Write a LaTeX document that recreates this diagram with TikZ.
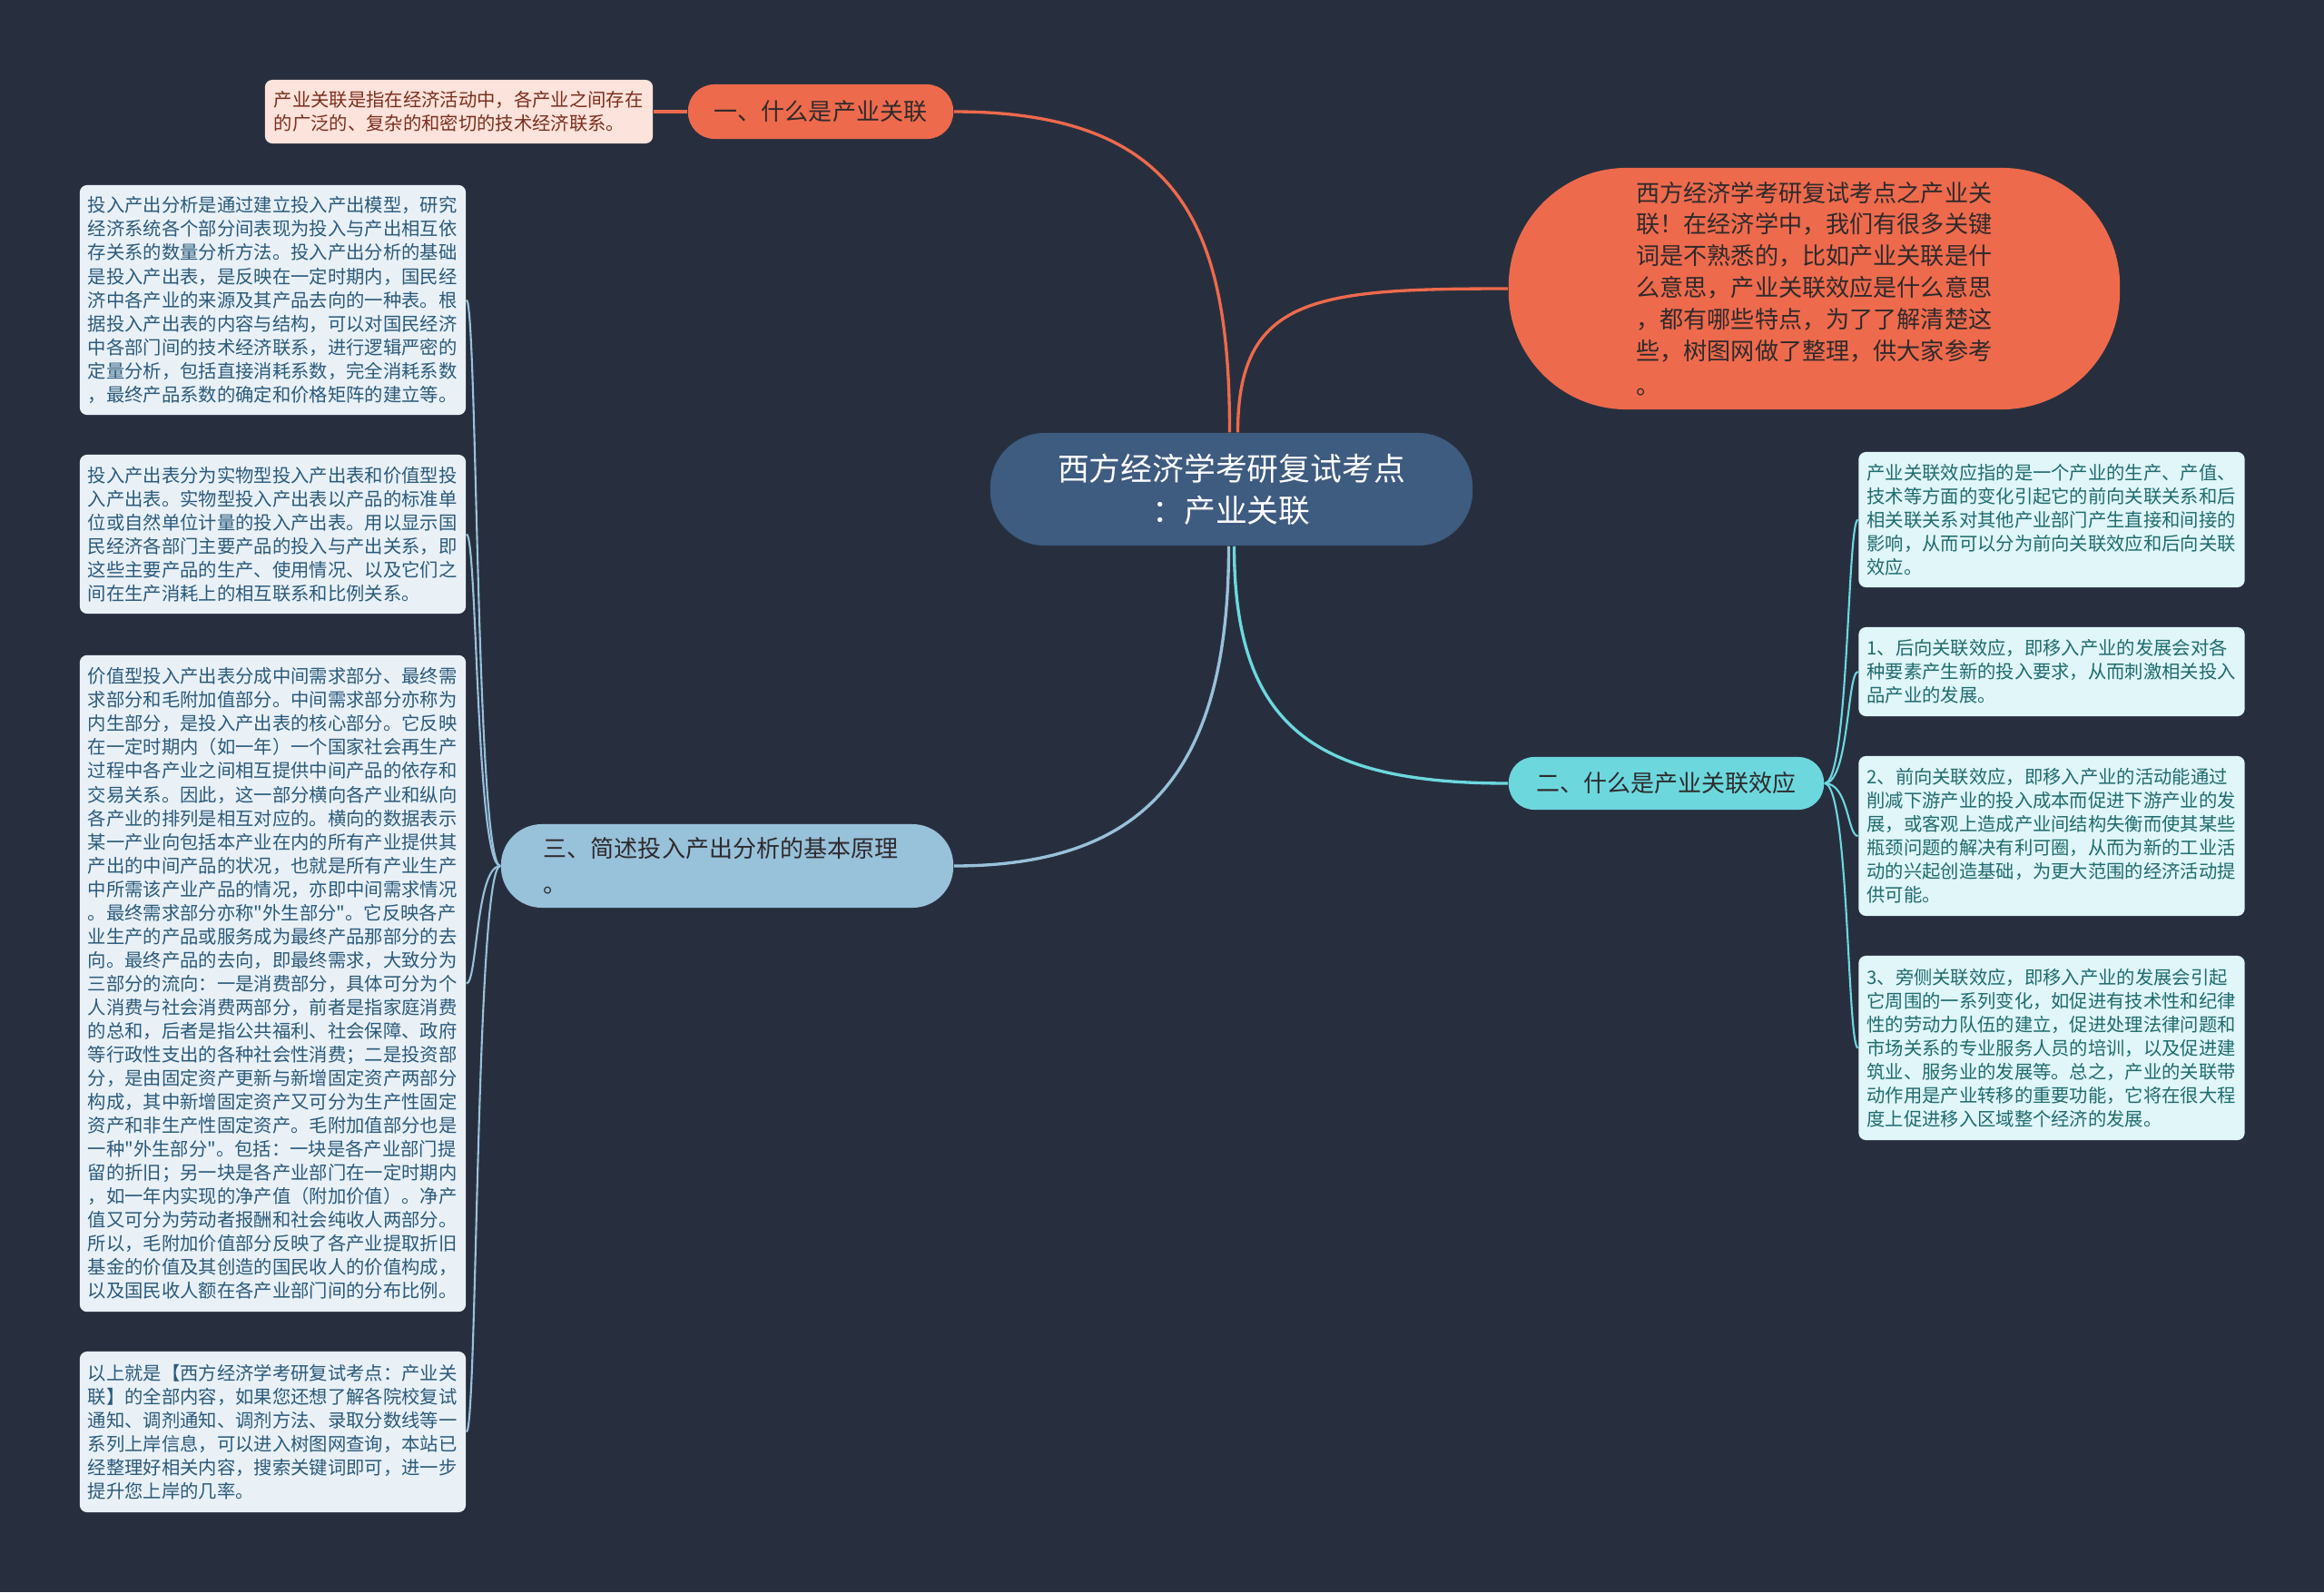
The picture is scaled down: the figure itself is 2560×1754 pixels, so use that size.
\documentclass[tikz,border=0pt]{standalone}
\usepackage{fontspec}
\setmainfont{Noto Sans CJK SC}
\newfontfamily\qfont{Noto Sans CJK SC}
\usetikzlibrary{calc}
\definecolor{bg}{HTML}{272F3E}
\definecolor{cnode}{HTML}{3E5B80}
\definecolor{coral}{HTML}{EE6A4C}
\definecolor{pinkfill}{HTML}{FCE3DB}
\definecolor{pinktext}{HTML}{7B2E1E}
\definecolor{cyan}{HTML}{6CD8DE}
\definecolor{lblue}{HTML}{98C1DA}
\definecolor{lfill}{HTML}{E9F1F7}
\definecolor{ltext}{HTML}{2B5A7A}
\definecolor{rfill}{HTML}{E0F6F8}
\definecolor{rtext}{HTML}{1F6B6E}
\definecolor{darktext}{HTML}{2E2A2C}
\newcommand\leaffont{\fontsize{5.78pt}{7.4pt}\selectfont}
\newcommand\branchfont{\fontsize{7.4pt}{11.1pt}\selectfont}
\newcommand\topicfont{\fontsize{7.43pt}{9.9pt}\selectfont}
\newcommand\cfont{\fontsize{9.9pt}{13pt}\selectfont}
\newcommand\dq{{\qfont\char34}}
\tikzset{
  leafbase/.style={inner sep=0pt, rounded corners=0.08cm, minimum width=4.25cm, text width=4.07cm, align=left, font=\leaffont},
  leafL/.style={leafbase, fill=lfill, text=ltext},
  leafR/.style={leafbase, fill=rfill, text=rtext},
  branch/.style={inner sep=0pt, font=\branchfont, text=darktext},
  mainline/.style={line width=0.95pt},
  leafline/.style={line width=0.6pt},
}
\begin{document}
\begin{tikzpicture}[x=0.01cm,y=-0.01cm]
\fill[bg] (0,0) rectangle (2560,1754);
\useasboundingbox (0,0) rectangle (2560,1754);

% central node
\node[fill=cnode, text=white, rounded corners=0.6cm, minimum width=5.31cm, minimum height=1.24cm, inner sep=0pt, align=center, font=\cfont] (c) at (1356.5,539) {西方经济学考研复试考点\\：产业关联};

% branch one
\node[branch, fill=coral, rounded corners=0.29cm, minimum width=2.92cm, minimum height=0.6cm] (n1) at (904,123) {一、什么是产业关联};
\node[inner sep=0pt, rounded corners=0.08cm, fill=pinkfill, text=pinktext, minimum width=4.27cm, minimum height=0.7cm, text width=4.07cm, align=left, font=\leaffont] (p1) at (505.5,123) {产业关联是指在经济活动中，各产业之间存在\\的广泛的、复杂的和密切的技术经济联系。};

% topic
\node[fill=coral, text=darktext, rounded corners=1.3cm, minimum width=6.73cm, minimum height=2.66cm, inner sep=0pt, text width=3.92cm, align=left, font=\topicfont] (t) at (1998.5,318) {西方经济学考研复试考点之产业关\\联！在经济学中，我们有很多关键\\词是不熟悉的，比如产业关联是什\\么意思，产业关联效应是什么意思\\，都有哪些特点，为了了解清楚这\\些，树图网做了整理，供大家参考\\[1pt]。};

% branch two
\node[branch, fill=cyan, text=darktext, rounded corners=0.28cm, minimum width=3.47cm, minimum height=0.58cm] (n2) at (1835.5,863) {二、什么是产业关联效应};

% branch three
\node[branch, fill=lblue, rounded corners=0.45cm, minimum width=4.98cm, minimum height=0.92cm, text width=4.04cm, align=left] (n3) at (801,954) {三、简述投入产出分析的基本原理\\。};

% right leaves
\node[leafR, minimum height=1.49cm] (r1) at (2260,572.5) {产业关联效应指的是一个产业的生产、产值、\\技术等方面的变化引起它的前向关联关系和后\\相关联关系对其他产业部门产生直接和间接的\\影响，从而可以分为前向关联效应和后向关联\\效应。};
\node[leafR, minimum height=0.98cm] (r2) at (2260,740) {1、后向关联效应，即移入产业的发展会对各\\种要素产生新的投入要求，从而刺激相关投入\\品产业的发展。};
\node[leafR, minimum height=1.76cm] (r3) at (2260,921) {2、前向关联效应，即移入产业的活动能通过\\削减下游产业的投入成本而促进下游产业的发\\展，或客观上造成产业间结构失衡而使其某些\\瓶颈问题的解决有利可圈，从而为新的工业活\\动的兴起创造基础，为更大范围的经济活动提\\供可能。};
\node[leafR, minimum height=2.03cm] (r4) at (2260,1154.5) {3、旁侧关联效应，即移入产业的发展会引起\\它周围的一系列变化，如促进有技术性和纪律\\性的劳动力队伍的建立，促进处理法律问题和\\市场关系的专业服务人员的培训，以及促进建\\筑业、服务业的发展等。总之，产业的关联带\\动作用是产业转移的重要功能，它将在很大程\\度上促进移入区域整个经济的发展。};

% left leaves
\node[leafL, minimum height=2.53cm] (l1) at (300.5,330.5) {投入产出分析是通过建立投入产出模型，研究\\经济系统各个部分间表现为投入与产出相互依\\存关系的数量分析方法。投入产出分析的基础\\是投入产出表，是反映在一定时期内，国民经\\济中各产业的来源及其产品去向的一种表。根\\据投入产出表的内容与结构，可以对国民经济\\中各部门间的技术经济联系，进行逻辑严密的\\定量分析，包括直接消耗系数，完全消耗系数\\，最终产品系数的确定和价格矩阵的建立等。};
\node[leafL, minimum height=1.75cm] (l2) at (300.5,588.5) {投入产出表分为实物型投入产出表和价值型投\\入产出表。实物型投入产出表以产品的标准单\\位或自然单位计量的投入产出表。用以显示国\\民经济各部门主要产品的投入与产出关系，即\\这些主要产品的生产、使用情况、以及它们之\\间在生产消耗上的相互联系和比例关系。};
\node[leafL, minimum height=7.23cm] (l3) at (300.5,1083.5) {价值型投入产出表分成中间需求部分、最终需\\求部分和毛附加值部分。中间需求部分亦称为\\内生部分，是投入产出表的核心部分。它反映\\在一定时期内（如一年）一个国家社会再生产\\过程中各产业之间相互提供中间产品的依存和\\交易关系。因此，这一部分横向各产业和纵向\\各产业的排列是相互对应的。横向的数据表示\\某一产业向包括本产业在内的所有产业提供其\\产出的中间产品的状况，也就是所有产业生产\\中所需该产业产品的情况，亦即中间需求情况\\。最终需求部分亦称\dq 外生部分\dq 。它反映各产\\业生产的产品或服务成为最终产品那部分的去\\向。最终产品的去向，即最终需求，大致分为\\三部分的流向：一是消费部分，具体可分为个\\人消费与社会消费两部分，前者是指家庭消费\\的总和，后者是指公共福利、社会保障、政府\\等行政性支出的各种社会性消费；二是投资部\\分，是由固定资产更新与新增固定资产两部分\\构成，其中新增固定资产又可分为生产性固定\\资产和非生产性固定资产。毛附加值部分也是\\一种\dq 外生部分\dq 。包括：一块是各产业部门提\\留的折旧；另一块是各产业部门在一定时期内\\，如一年内实现的净产值（附加价值）。净产\\值又可分为劳动者报酬和社会纯收人两部分。\\所以，毛附加价值部分反映了各产业提取折旧\\基金的价值及其创造的国民收人的价值构成，\\以及国民收人额在各产业部门间的分布比例。};
\node[leafL, minimum height=1.77cm] (l4) at (300.5,1577.5) {以上就是【西方经济学考研复试考点：产业关\\联】的全部内容，如果您还想了解各院校复试\\通知、调剂通知、调剂方法、录取分数线等一\\系列上岸信息，可以进入树图网查询，本站已\\经整理好相关内容，搜索关键词即可，进一步\\提升您上岸的几率。};

% main connectors
\draw[mainline, coral] ($(c.north)+(-2,0)$) .. controls ($(c.north)+(-2,-227)$) and ($(n1.east)+(250,0)$) .. (n1.east);
\draw[mainline, coral] ($(c.north)+(7,0)$) .. controls ($(c.north)+(7,-150)$) and ($(t.west)+(-212,0)$) .. (t.west);
\draw[mainline, cyan] ($(c.south)+(3,0)$) .. controls ($(c.south)+(3,200)$) and ($(n2.west)+(-212,0)$) .. (n2.west);
\draw[mainline, lblue] ($(c.south)+(-3,0)$) .. controls ($(c.south)+(-3,249)$) and ($(n3.east)+(210,0)$) .. (n3.east);

% leaf connectors
\draw[mainline, coral] (n1.west) -- (p1.east);
\foreach \leaf in {r1,r2,r3,r4}{
  \draw[leafline, cyan] (n2.east) .. controls ($(n2.east)+(27,0)$) and ($(\leaf.west)+(-12,0)$) .. (\leaf.west);
}
\foreach \leaf in {l1,l2,l3,l4}{
  \draw[leafline, lblue] (n3.west) .. controls ($(n3.west)+(-27,0)$) and ($(\leaf.east)+(12,0)$) .. (\leaf.east);
}
\end{tikzpicture}
\end{document}
